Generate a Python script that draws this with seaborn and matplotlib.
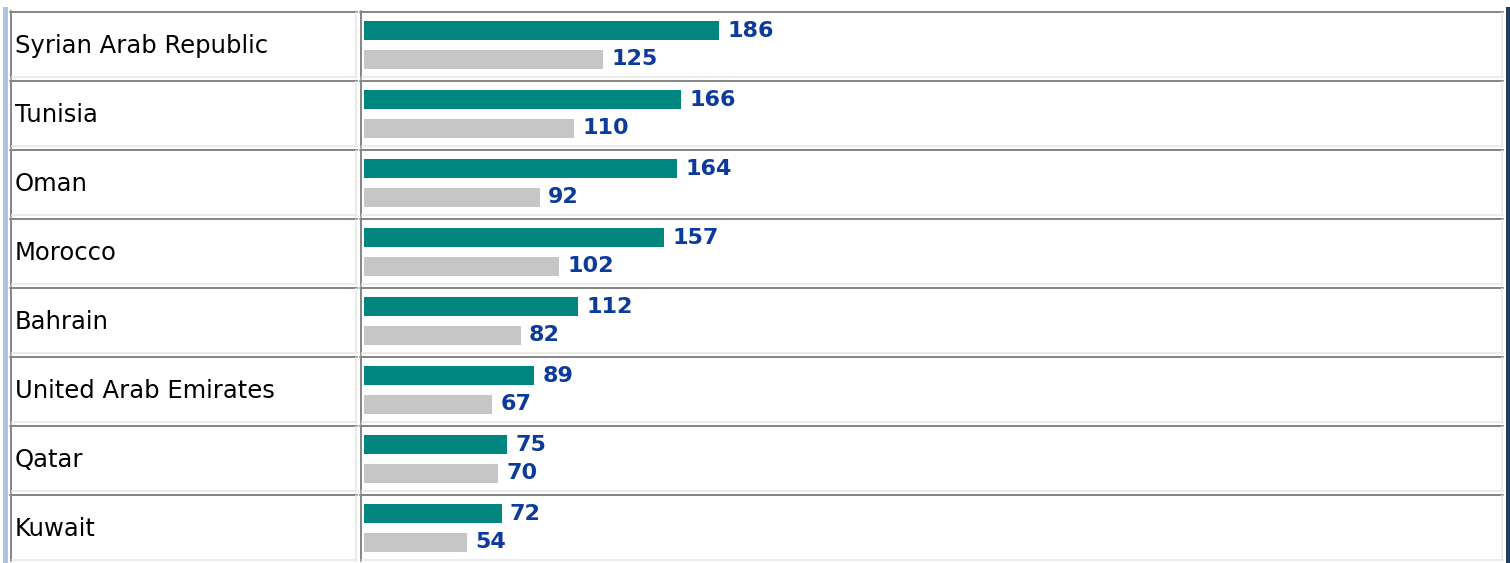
import pandas as pd
import seaborn as sns
import matplotlib
matplotlib.use('Agg')
import matplotlib.pyplot as plt
from matplotlib.patches import Rectangle
from matplotlib.lines import Line2D
from matplotlib.transforms import Affine2D

# Data
countries = ['Syrian Arab Republic', 'Tunisia', 'Oman', 'Morocco', 'Bahrain',
             'United Arab Emirates', 'Qatar', 'Kuwait']
series_1 = [186, 166, 164, 157, 112, 89, 75, 72]
series_2 = [125, 110, 92, 102, 82, 67, 70, 54]
series_names = ['Series 1', 'Series 2']

teal = '#00857f'
grey = '#c6c6c6'
label_blue = '#0d3b9c'

df = pd.DataFrame({
    'country': countries * 2,
    'value': series_1 + series_2,
    'series': [series_names[0]] * len(countries) + [series_names[1]] * len(countries),
})

W, H = 1510, 563
sns.set_style('white')
plt.rcParams['font.family'] = ['DejaVu Sans']
fig = plt.figure(figsize=(W / 100, H / 100), dpi=100)
ax = fig.add_axes([0, 0, 1, 1])

sns.barplot(data=df, y='country', x='value', hue='series', orient='h',
            palette=[teal, grey], width=0.84, gap=0.345, saturation=1,
            linewidth=0, legend=False, ax=ax)

for cont in ax.containers:
    ax.bar_label(cont, padding=6, fontsize=16, fontweight='bold', color=label_blue)

# country names in the left cells
for i, name in enumerate(countries):
    ax.text(15 / W, i + 0.12, name, transform=ax.get_yaxis_transform(),
            fontsize=17.5, va='baseline', ha='left', color='#000000')

# pixel scale: 0 at x=364 px, 1.91 px per unit; rows 69 px apart
px_per_unit = 1.91
ax.set_xlim(-364 / px_per_unit, (W - 364) / px_per_unit)
ax.set_ylim((H - 45) / 69, -45 / 69)
ax.set_axis_off()

# table cell borders drawn in pixel coordinates (origin top-left)
pix = Affine2D().scale(1 / W, -1 / H).translate(0, 1) + fig.transFigure


def cell(x0, y0, x1, y1):
    dark = '#878787'
    light = '#ecebe7'
    lw = 1.44
    fig.add_artist(Line2D([x0, x1], [y0 + 1, y0 + 1], color=dark, lw=lw, transform=pix))
    fig.add_artist(Line2D([x0 + 1, x0 + 1], [y0, y1], color=dark, lw=lw, transform=pix))
    fig.add_artist(Line2D([x0 + 2, x1], [y1 - 1, y1 - 1], color=light, lw=lw, transform=pix))
    fig.add_artist(Line2D([x1 - 1, x1 - 1], [y0 + 2, y1], color=light, lw=lw, transform=pix))


for i in range(len(countries)):
    top = 11 + 69 * i
    cell(10, top, 357, top + 67)
    cell(360, top, 1503, top + 67)

# page stripes at the left and right edges
fig.add_artist(Rectangle((3, 7), 5, H - 7, facecolor='#adc6e0', transform=pix, lw=0))
fig.add_artist(Rectangle((1506, 7), 5, H - 7, facecolor='#1f3f60', transform=pix, lw=0))

fig.savefig('out.png', dpi=100)
plt.close(fig)
